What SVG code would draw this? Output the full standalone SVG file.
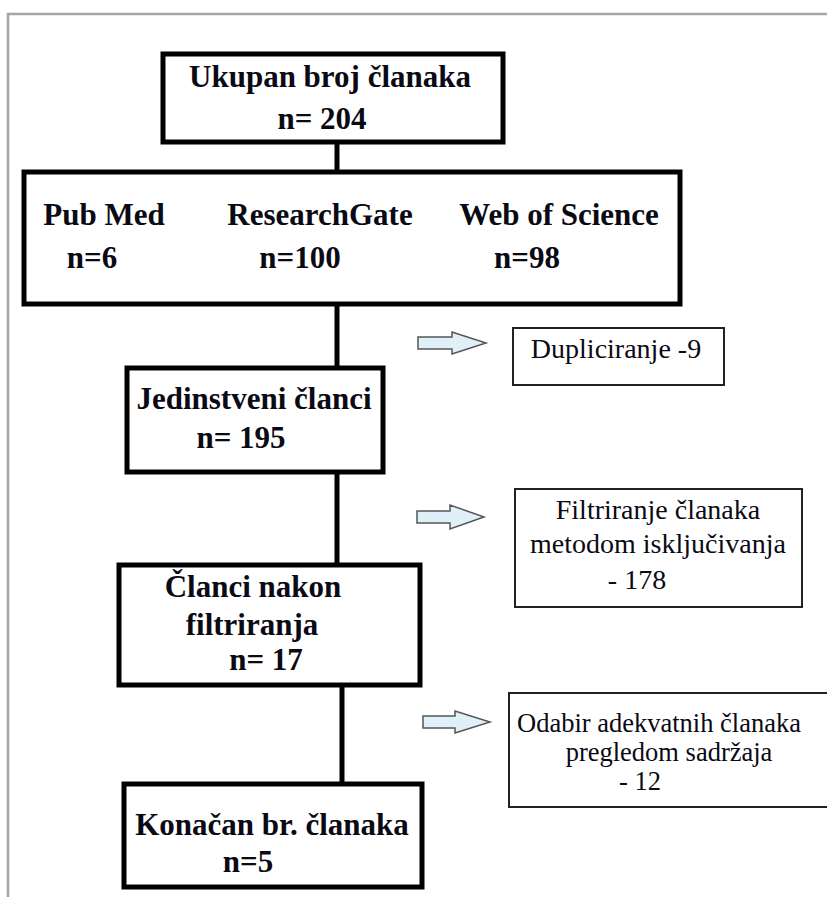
<svg xmlns="http://www.w3.org/2000/svg" width="827" height="897" viewBox="0 0 827 897">
<style>
.frame{fill:none;stroke:#a6a6a6;stroke-width:2.5}
.box{fill:#fff;stroke:#000;stroke-width:5}
.side{fill:#fff;stroke:#222;stroke-width:2}
.conn{stroke:#000;stroke-width:5;fill:none}
.arr{fill:#dff0f8;stroke:#555;stroke-width:1.5;stroke-linejoin:miter}
.b{font-family:"Liberation Serif","Times New Roman",serif;font-weight:bold;font-size:31px;fill:#0a0a14;text-anchor:middle}
.r{font-family:"Liberation Serif","Times New Roman",serif;font-size:28px;fill:#0a0a14;text-anchor:middle}
.s{font-size:26.5px}
</style>
<rect width="827" height="897" fill="#fff"/>
<path class="frame" d="M8,897 V14 H827"/>
<g id="connectors">
<line class="conn" x1="337" y1="143" x2="337" y2="172"/>
<line class="conn" x1="337" y1="304" x2="337" y2="368"/>
<line class="conn" x1="337" y1="472" x2="337" y2="565"/>
<line class="conn" x1="342" y1="685" x2="342" y2="784"/>
<polygon class="arr" points="418,337 452,337 452,332 486,343 452,354 452,349 418,349"/>
<polygon class="arr" points="417,511 450,511 450,505 484,517 450,529 450,523 417,523"/>
<polygon class="arr" points="423,716 455,716 455,711 490,722 455,733 455,728 423,728"/>
</g>
<g id="n1">
<rect class="box" x="163" y="54" width="340" height="88"/>
<text class="b" x="330" y="87">Ukupan broj članaka</text>
<text class="b" x="322" y="129">n= 204</text>
</g>
<g id="n2">
<rect class="box" x="24" y="172" width="656" height="132"/>
<text class="b" x="104" y="225">Pub Med</text>
<text class="b" x="92" y="268">n=6</text>
<text class="b" x="320" y="225">ResearchGate</text>
<text class="b" x="300" y="268">n=100</text>
<text class="b" x="559" y="225">Web of Science</text>
<text class="b" x="527" y="268">n=98</text>
</g>
<g id="n3">
<rect class="box" x="127" y="368" width="256" height="104"/>
<text class="b" x="254" y="409">Jedinstveni članci</text>
<text class="b" x="241" y="448">n= 195</text>
</g>
<g id="n4">
<rect class="box" x="119" y="565" width="301" height="120"/>
<text class="b" x="253" y="597">Članci nakon</text>
<text class="b" x="252" y="635">filtriranja</text>
<text class="b" x="266" y="670">n= 17</text>
</g>
<g id="n5">
<rect class="box" x="124" y="784" width="298" height="103"/>
<text class="b" x="272" y="835">Konačan br. članaka</text>
<text class="b" x="248" y="872">n=5</text>
</g>
<g id="s1">
<rect class="side" x="513" y="328" width="211" height="57"/>
<text class="r" x="616" y="358">Dupliciranje -9</text>
</g>
<g id="s2">
<rect class="side" x="515" y="489" width="287" height="118"/>
<text class="r" x="658" y="519">Filtriranje članaka</text>
<text class="r" x="658" y="553">metodom isključivanja</text>
<text class="r" x="637" y="589">- 178</text>
</g>
<g id="s3">
<rect class="side" x="509" y="693" width="330" height="114"/>
<text class="r s" x="517" y="732" style="text-anchor:start">Odabir adekvatnih članaka</text>
<text class="r s" x="669" y="761">pregledom sadržaja</text>
<text class="r s" x="640" y="790">- 12</text>
</g>
</svg>
